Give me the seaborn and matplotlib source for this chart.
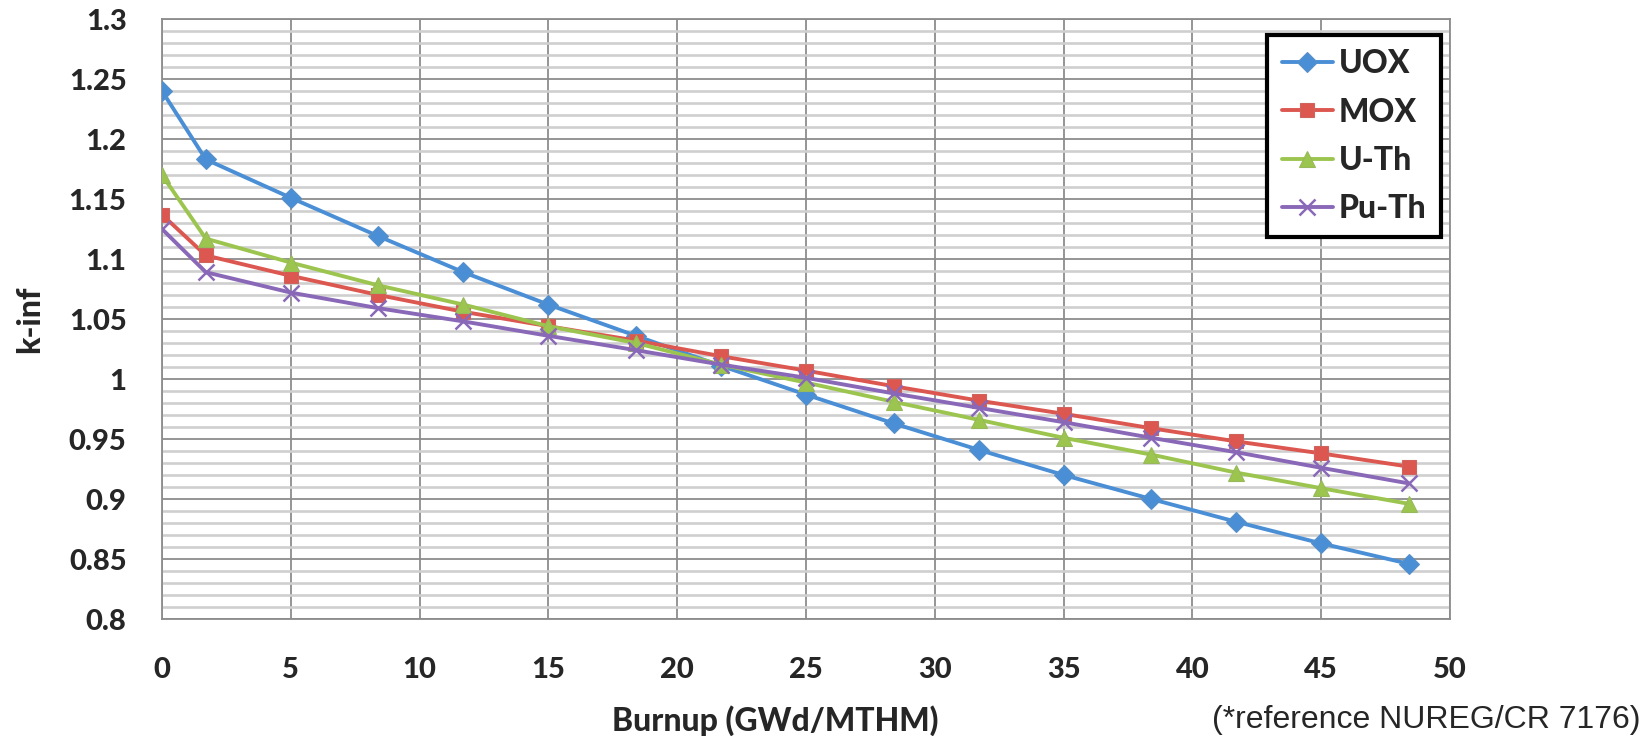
import pandas as pd
import matplotlib.pyplot as plt
import seaborn as sns
from matplotlib.ticker import MultipleLocator

# burnup steps (GWd/MTHM)
burnup = [0, 1.7, 5, 8.4, 11.7, 15, 18.4, 21.7, 25, 28.4, 31.7, 35, 38.4, 41.7, 45, 48.4]

# k-inf
uox = [1.240, 1.183, 1.151, 1.119, 1.089, 1.062, 1.036, 1.011, 0.987, 0.963, 0.941, 0.920, 0.900, 0.881, 0.863, 0.846]
mox = [1.137, 1.103, 1.086, 1.070, 1.056, 1.044, 1.032, 1.019, 1.007, 0.994, 0.982, 0.971, 0.959, 0.948, 0.938, 0.927]
u_th = [1.170, 1.117, 1.097, 1.078, 1.062, 1.044, 1.030, 1.012, 0.997, 0.981, 0.966, 0.951, 0.937, 0.922, 0.909, 0.896]
pu_th = [1.125, 1.089, 1.072, 1.059, 1.048, 1.036, 1.024, 1.012, 1.001, 0.988, 0.976, 0.964, 0.951, 0.939, 0.926, 0.913]

fuels = ["UOX", "MOX", "U-Th", "Pu-Th"]
palette = {"UOX": "#4a8fd6", "MOX": "#dc5750", "U-Th": "#9cc54f", "Pu-Th": "#8a68b8"}
markers = {"UOX": "D", "MOX": "s", "U-Th": "^", "Pu-Th": "x"}
msizes = {"UOX": 10, "MOX": 10.5, "U-Th": 11, "Pu-Th": 11}

sns.set_theme(style="white")
plt.rcParams["font.family"] = ["Lato", "DejaVu Sans"]

df = pd.DataFrame({
    "burnup": burnup * 4,
    "kinf": uox + mox + u_th + pu_th,
    "fuel": [f for f in fuels for _ in burnup],
})

fig = plt.figure(figsize=(16.43, 7.36), dpi=100)
ax = fig.add_axes([162 / 1643, 1 - 619 / 736, (1450 - 162) / 1643, 600 / 736])

grid_col = "#8c8c8c"
ax.xaxis.set_major_locator(MultipleLocator(5))
ax.yaxis.set_minor_locator(MultipleLocator(0.01))
ax.grid(which="major", axis="both", color=grid_col, linewidth=1.3, zorder=0)
ax.grid(which="minor", axis="y", color="#cfcfcf", linewidth=1.9, zorder=0)
ax.set_axisbelow(True)

for f in fuels:
    sub = df[df["fuel"] == f]
    is_x = markers[f] == "x"
    sns.lineplot(data=sub, x="burnup", y="kinf", ax=ax, color=palette[f],
                 linewidth=2.8, marker=markers[f], markersize=msizes[f],
                 markeredgewidth=1.8 if is_x else 0.8,
                 markeredgecolor=palette[f] if is_x else sns.desaturate(palette[f], 0.8),
                 label=f, zorder=3)

ax.set_xlim(0, 50)
ax.set_ylim(0.8, 1.3)
yticks = [0.8, 0.85, 0.9, 0.95, 1.0, 1.05, 1.1, 1.15, 1.2, 1.25, 1.3]
ytick_labels = ["0.8", "0.85", "0.9", "0.95", "1", "1.05", "1.1", "1.15", "1.2", "1.25", "1.3"]
ax.set_yticks(yticks)
ax.set_yticklabels(ytick_labels)

for s in ax.spines.values():
    s.set_color(grid_col)
    s.set_linewidth(1.3)

ax.tick_params(axis="both", which="major", direction="out", length=8.5, width=1.3,
               color=grid_col, labelsize=21, pad=17)
ax.tick_params(axis="both", which="minor", length=0)
ax.tick_params(axis="x", pad=19)
for lbl in ax.get_xticklabels() + ax.get_yticklabels():
    lbl.set_fontweight(900)

ax.set_xlabel("Burnup (GWd/MTHM)", fontsize=23, fontweight=900)
ax.xaxis.set_label_coords((775 - 162) / 1288, -(721 - 619) / 600, transform=ax.transAxes)
ax.xaxis.label.set_va("center")
ax.set_ylabel("k-inf", fontsize=23, fontweight=900)
ax.yaxis.set_label_coords(-(162 - 30) / 1288, 0.5, transform=ax.transAxes)
ax.yaxis.label.set_va("center")

leg = ax.legend(loc="upper right", bbox_to_anchor=(1441 / 1643, 1 - 35 / 736),
                bbox_transform=fig.transFigure, borderaxespad=0, fancybox=False,
                frameon=True, prop={"size": 23, "weight": 900}, handlelength=1.6,
                handletextpad=0.2, labelspacing=0.6, borderpad=0.45)
leg.get_frame().set_edgecolor("black")
leg.get_frame().set_linewidth(3)
leg.get_frame().set_facecolor("white")
leg.get_frame().set_alpha(1)

fig.text(1640 / 1643, 8 / 736, "(*reference NUREG/CR 7176)", ha="right", va="baseline",
         fontsize=23, family=["Liberation Sans", "DejaVu Sans"])

fig.savefig("out.png", dpi=100)
